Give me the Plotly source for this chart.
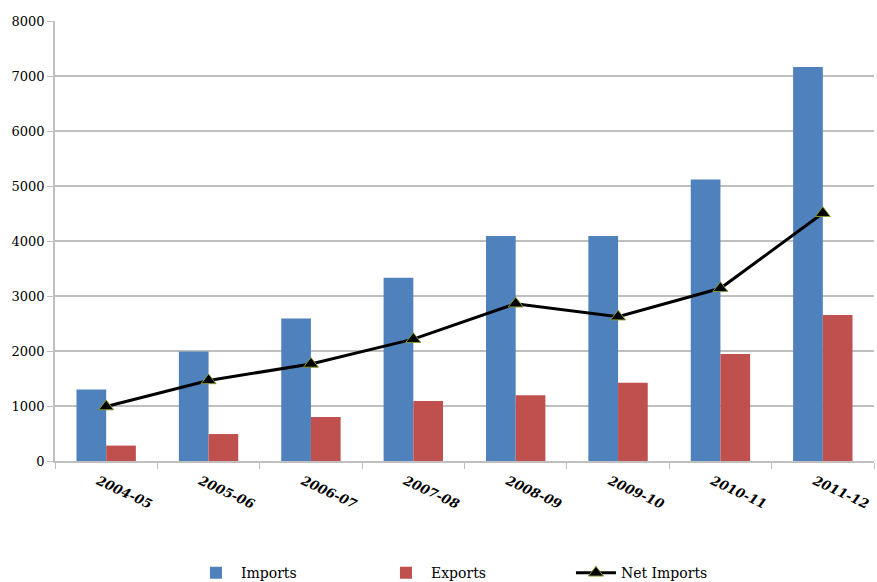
import plotly.graph_objects as go

years = ["2004-05", "2005-06", "2006-07", "2007-08", "2008-09", "2009-10", "2010-11", "2011-12"]
imports = [1300, 1990, 2590, 3330, 4090, 4090, 5120, 7165]
exports = [280, 490, 800, 1090, 1195, 1425, 1945, 2655]
net_imports = [990, 1465, 1765, 2215, 2860, 2625, 3140, 4505]
y_ticks = [0, 1000, 2000, 3000, 4000, 5000, 6000, 7000, 8000]

serif = "DejaVu Serif"

fig = go.Figure()
fig.add_trace(go.Bar(x=years, y=imports, name="Imports",
                     marker=dict(color="#4F81BD", line=dict(width=0))))
fig.add_trace(go.Bar(x=years, y=exports, name="Exports",
                     marker=dict(color="#C0504D", line=dict(width=0))))
fig.add_trace(go.Scatter(x=years, y=net_imports, name="Net Imports", mode="lines+markers",
                         line=dict(color="black", width=3),
                         marker=dict(symbol="triangle-up", size=13, color="black",
                                     line=dict(color="#8A9A2E", width=1))))

fig.update_layout(
    width=877, height=582,
    margin=dict(l=55, r=3, t=21, b=121, autoexpand=False),
    paper_bgcolor="white", plot_bgcolor="white",
    barmode="group", bargap=0.42, bargroupgap=0,
    font=dict(family=serif, color="black"),
    showlegend=True,
    legend=dict(orientation="h", x=0.166, xanchor="left", y=-0.255, yanchor="middle",
                font=dict(family=serif, size=14, color="black"),
                entrywidth=135, itemwidth=40, traceorder="normal"),
    xaxis=dict(type="category", tickson="boundaries", ticks="outside", ticklen=6,
               tickcolor="#BFBFBF", showline=True, linecolor="#BFBFBF", linewidth=1.5,
               tickangle=25, showgrid=False, automargin=False, ticklabelstandoff=6,
               ticklabelshift=-8,
               tickfont=dict(family=serif, size=13, color="black", weight="bold", style="italic")),
    yaxis=dict(range=[0, 8000], tickvals=y_ticks, ticks="outside", ticklen=6,
               tickcolor="#BFBFBF", showline=True, linecolor="#BFBFBF", linewidth=1.5,
               showgrid=True, gridcolor="#BFBFBF", gridwidth=1.5, zeroline=False,
               automargin=False,
               tickfont=dict(family=serif, size=13, color="black")),
)

fig.write_html("out.html")
